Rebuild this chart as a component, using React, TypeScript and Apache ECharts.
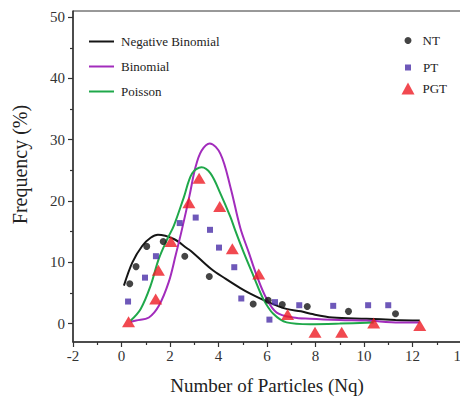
import React, { useEffect, useRef } from "react";
import * as echarts from "echarts";

// Fitted curves
const negBinX = [0.1, 0.45, 0.86, 1.2, 1.5, 2.16, 2.7, 2.91, 3.7, 4.3, 4.9, 5.31, 6.0, 6.8, 7.4, 7.8, 8.7, 10.1, 11.3, 12.3];
const negBinY = [6.2, 10.0, 12.7, 14.0, 14.5, 13.8, 12.3, 11.7, 8.9, 7.3, 5.8, 4.9, 3.6, 2.4, 2.0, 1.6, 1.0, 0.8, 0.6, 0.5];

const binomX = [0.38, 0.6, 1.13, 1.54, 1.95, 2.23, 2.5, 2.8, 3.05, 3.3, 3.64, 4.08, 4.49, 4.9, 5.24, 5.58, 5.99, 6.4, 7.08, 7.77, 9.0, 10.1, 11.46, 12.3];
const binomY = [0.3, 0.5, 1.0, 2.9, 6.8, 11.1, 15.5, 20.8, 25.5, 28.2, 29.4, 27.7, 22.3, 15.6, 11.7, 7.8, 4.0, 1.8, 1.0, 0.8, 0.6, 0.5, 0.2, 0.2];

const poissonX = [0.38, 0.79, 1.2, 1.54, 1.89, 2.16, 2.57, 2.91, 3.3, 3.67, 4.08, 4.49, 4.69, 5.03, 5.44, 5.85, 6.26, 6.81, 7.77, 9.0, 10.4];
const poissonY = [0.5, 2.4, 6.2, 10.6, 13.8, 16.0, 20.6, 24.5, 25.5, 24.5, 21.2, 17.4, 15.2, 11.7, 7.8, 4.0, 1.6, 0.2, -0.1, 0.0, 0.2];

// Measured points
const ntX = [0.34, 0.6, 1.04, 1.72, 2.61, 3.62, 5.43, 6.05, 6.63, 7.66, 9.36, 11.3];
const ntY = [6.5, 9.3, 12.6, 13.4, 11.0, 7.7, 3.2, 3.8, 3.1, 2.8, 2.0, 1.6];

const ptX = [0.27, 0.97, 1.42, 2.4, 3.06, 3.65, 4.02, 4.65, 4.94, 6.1, 6.33, 7.33, 8.73, 10.17, 11.0];
const ptY = [3.6, 7.5, 11.0, 16.4, 17.3, 15.3, 12.4, 9.2, 4.1, 0.65, 3.5, 3.0, 2.9, 3.0, 3.0];

const pgtX = [0.29, 1.41, 1.52, 2.04, 2.78, 3.2, 4.05, 4.57, 5.66, 6.85, 7.98, 9.08, 10.4, 12.3];
const pgtY = [0.3, 4.0, 8.7, 13.4, 19.7, 23.7, 19.1, 12.2, 8.1, 1.5, -1.4, -1.4, 0.1, -0.3];

// Axis ticks
const yLabelValues = [0, 10, 20, 30, 40, 50];
const yMinorValues = [5, 15, 25, 35, 45];

const zip = (xs: number[], ys: number[]) => xs.map((x, i) => [x, ys[i]]);

const FONT = '"Liberation Serif", "DejaVu Serif", serif';
const AXIS_COLOR = "#333";

export default function App() {
  const ref = useRef<HTMLDivElement>(null);
  useEffect(() => {
    if (!ref.current) return;
    const chart = echarts.init(ref.current, null, { renderer: "svg" });
    const lineSeries = (name: string, xs: number[], ys: number[], color: string) => ({
      name,
      type: "line",
      data: zip(xs, ys),
      smooth: 0.35,
      symbol: "none",
      lineStyle: { color, width: 2 },
      itemStyle: { color },
      z: 2,
    });
    const legendText = { fontFamily: FONT, fontSize: 13, color: "#222" };
    chart.setOption({
      animation: false,
      backgroundColor: "#fff",
      grid: {
        left: 73,
        top: 11,
        width: 388,
        height: 331,
        show: true,
        borderColor: AXIS_COLOR,
        borderWidth: 1,
        backgroundColor: "transparent",
      },
      legend: [
        {
          data: ["Negative Binomial", "Binomial", "Poisson"],
          orient: "vertical",
          left: 89,
          top: 34,
          padding: 0,
          icon: "rect",
          itemWidth: 25,
          itemHeight: 2,
          itemGap: 10,
          textStyle: { ...legendText, lineHeight: 15, padding: [0, 0, 0, 2] },
        },
        {
          data: ["NT"],
          left: 404.5,
          top: 33,
          padding: 0,
          itemWidth: 7,
          itemHeight: 7,
          textStyle: { ...legendText, lineHeight: 15, padding: [0, 0, 0, 6] },
        },
        {
          data: ["PT"],
          left: 405,
          top: 60,
          padding: 0,
          itemWidth: 6,
          itemHeight: 6,
          textStyle: { ...legendText, lineHeight: 15, padding: [0, 0, 0, 7] },
        },
        {
          data: ["PGT"],
          left: 401.5,
          top: 81,
          padding: 0,
          itemWidth: 13,
          itemHeight: 12,
          textStyle: { ...legendText, lineHeight: 15, padding: [0, 0, 0, 3] },
        },
      ],
      xAxis: {
        type: "value",
        min: -2,
        max: 14,
        interval: 2,
        name: "Number of Particles (Nq)",
        nameLocation: "middle",
        nameGap: 34,
        nameTextStyle: { fontFamily: FONT, fontSize: 19, color: "#222" },
        axisLine: { show: true, onZero: false, lineStyle: { color: AXIS_COLOR, width: 1.5 } },
        axisTick: { show: true, inside: false, length: 5, lineStyle: { color: AXIS_COLOR, width: 1.2 } },
        minorTick: { show: true, splitNumber: 2, length: 3, lineStyle: { color: AXIS_COLOR, width: 1.2 } },
        axisLabel: { fontFamily: FONT, fontSize: 15, color: "#333", margin: 6 },
        splitLine: { show: false },
      },
      yAxis: [
        {
          type: "value",
          min: -3,
          max: 51,
          name: "Frequency (%)",
          nameLocation: "middle",
          nameGap: 43,
          nameTextStyle: { fontFamily: FONT, fontSize: 20, color: "#222", padding: [0, 0, 0, 24] },
          axisLine: { show: true, onZero: false, lineStyle: { color: AXIS_COLOR, width: 1.5 } },
          axisTick: { show: true, length: 5, customValues: yLabelValues, lineStyle: { color: AXIS_COLOR, width: 1.2 } },
          axisLabel: { fontFamily: FONT, fontSize: 15, color: "#333", margin: 8, customValues: yLabelValues },
          splitLine: { show: false },
        },
        {
          type: "value",
          min: -3,
          max: 51,
          position: "left",
          axisLine: { show: false, onZero: false },
          axisTick: { show: true, length: 3, customValues: yMinorValues, lineStyle: { color: AXIS_COLOR, width: 1.2 } },
          axisLabel: { show: false },
          splitLine: { show: false },
        },
      ],
      series: [
        lineSeries("Negative Binomial", negBinX, negBinY, "#151515"),
        lineSeries("Binomial", binomX, binomY, "#a22cbc"),
        lineSeries("Poisson", poissonX, poissonY, "#1fa84a"),
        {
          name: "NT",
          type: "scatter",
          data: zip(ntX, ntY),
          symbol: "circle",
          symbolSize: 7,
          itemStyle: { color: "#151515" },
          z: 3,
        },
        {
          name: "PT",
          type: "scatter",
          data: zip(ptX, ptY),
          symbol: "rect",
          symbolSize: 6,
          itemStyle: { color: "#4a2ea8" },
          z: 3,
        },
        {
          name: "PGT",
          type: "scatter",
          data: zip(pgtX, pgtY),
          symbol: "triangle",
          symbolSize: [13, 11],
          itemStyle: { color: "#ee1c24" },
          z: 4,
        },
      ],
    });
    return () => chart.dispose();
  }, []);
  return (
    <div
      ref={ref}
      style={{ position: "fixed", left: 0, top: 0, width: 480, height: 402 }}
    />
  );
}
